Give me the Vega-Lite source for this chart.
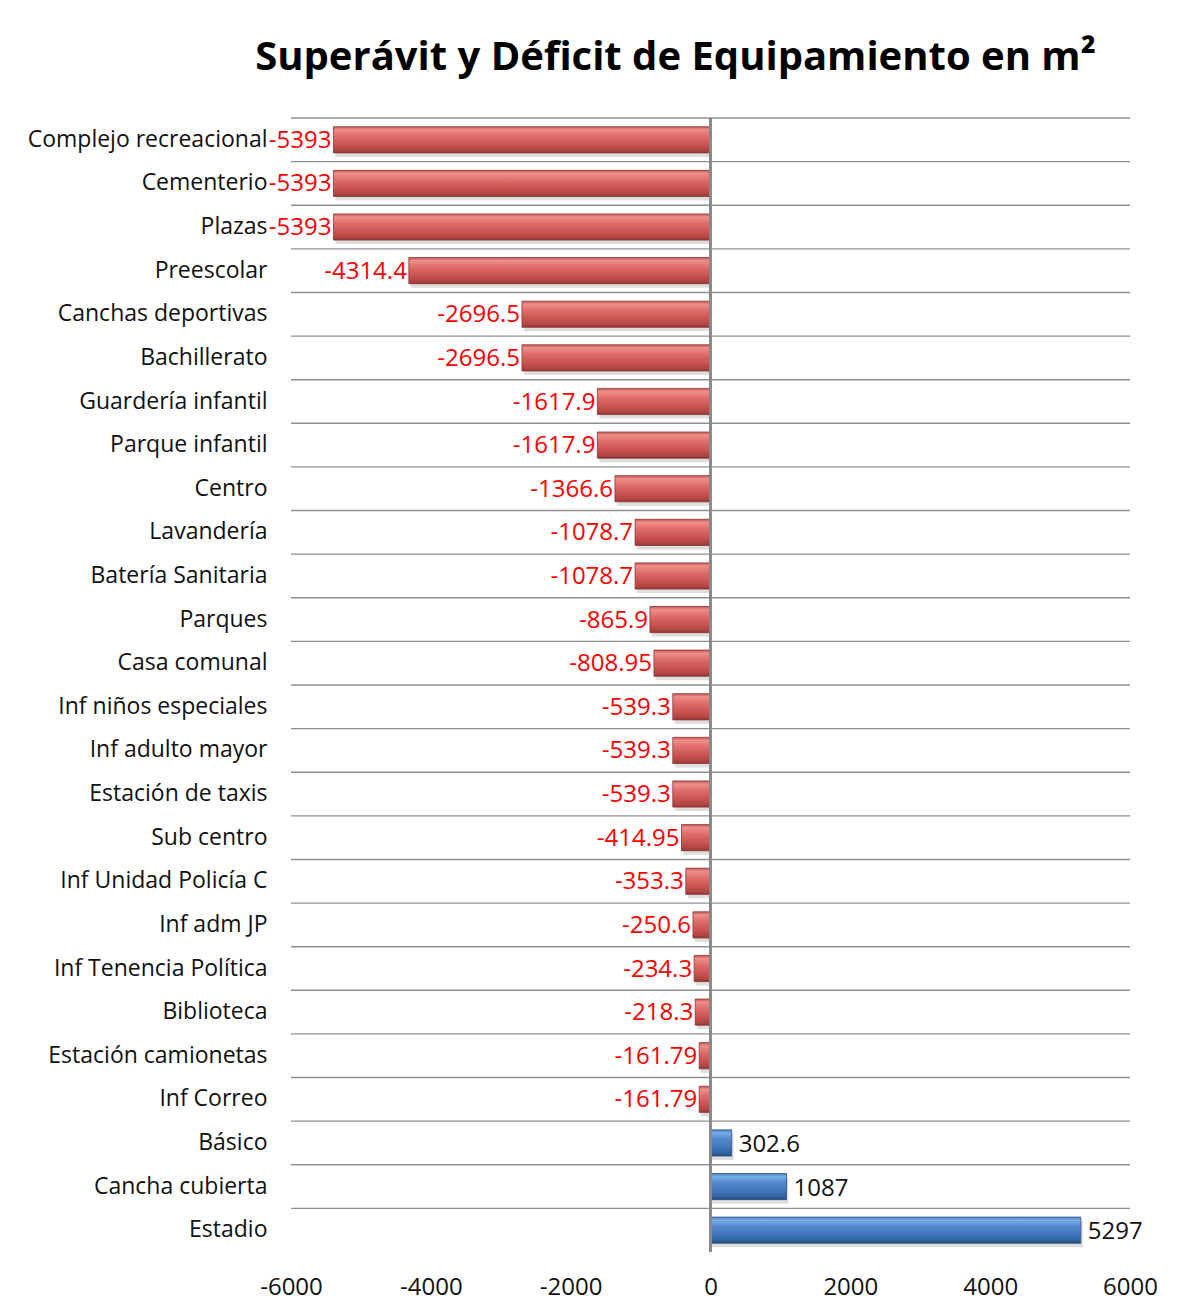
{
  "$schema": "https://vega.github.io/schema/vega-lite/v6.json",
  "width": 839,
  "height": 1134,
  "autosize": "none",
  "padding": {"left": 291, "top": 118, "right": 51, "bottom": 62},
  "background": "white",
  "title": {
    "text": "Superávit y Déficit de Equipamiento en m²",
    "font": "Open Sans",
    "fontSize": 40,
    "fontWeight": "bold",
    "color": "#000000",
    "anchor": "middle",
    "dx": -35,
    "offset": -1,
    "baseline": "bottom"
  },
  "config": {
    "view": {"stroke": null},
    "text": {"font": "Open Sans", "fontSize": 24}
  },
  "data": {
    "values": [
      {"cat": "Complejo recreacional", "v": -5393},
      {"cat": "Cementerio", "v": -5393},
      {"cat": "Plazas", "v": -5393},
      {"cat": "Preescolar", "v": -4314.4},
      {"cat": "Canchas deportivas", "v": -2696.5},
      {"cat": "Bachillerato", "v": -2696.5},
      {"cat": "Guardería infantil", "v": -1617.9},
      {"cat": "Parque infantil", "v": -1617.9},
      {"cat": "Centro", "v": -1366.6},
      {"cat": "Lavandería", "v": -1078.7},
      {"cat": "Batería Sanitaria", "v": -1078.7},
      {"cat": "Parques", "v": -865.9},
      {"cat": "Casa comunal", "v": -808.95},
      {"cat": "Inf niños especiales", "v": -539.3},
      {"cat": "Inf adulto mayor", "v": -539.3},
      {"cat": "Estación de taxis", "v": -539.3},
      {"cat": "Sub centro", "v": -414.95},
      {"cat": "Inf Unidad Policía C", "v": -353.3},
      {"cat": "Inf adm JP", "v": -250.6},
      {"cat": "Inf Tenencia Política", "v": -234.3},
      {"cat": "Biblioteca", "v": -218.3},
      {"cat": "Estación camionetas", "v": -161.79},
      {"cat": "Inf Correo", "v": -161.79},
      {"cat": "Básico", "v": 302.6},
      {"cat": "Cancha cubierta", "v": 1087},
      {"cat": "Estadio", "v": 5297}
    ]
  },
  "layer": [
    {
      "mark": {"type": "rule", "color": "#8f8f8f", "strokeWidth": 1.4},
      "encoding": {
        "y": {
          "field": "cat",
          "type": "nominal",
          "bandPosition": 0,
          "scale": {
            "domain": ["Complejo recreacional", "Cementerio", "Plazas", "Preescolar", "Canchas deportivas", "Bachillerato", "Guardería infantil", "Parque infantil", "Centro", "Lavandería", "Batería Sanitaria", "Parques", "Casa comunal", "Inf niños especiales", "Inf adulto mayor", "Estación de taxis", "Sub centro", "Inf Unidad Policía C", "Inf adm JP", "Inf Tenencia Política", "Biblioteca", "Estación camionetas", "Inf Correo", "Básico", "Cancha cubierta", "Estadio"],
            "paddingInner": 0,
            "paddingOuter": 0
          },
          "axis": {
            "title": null,
            "domain": false,
            "ticks": false,
            "grid": false,
            "labelFont": "Open Sans",
            "labelFontSize": 23,
            "labelColor": "#111111",
            "labelPadding": 24,
            "labelLimit": 400
          }
        },
        "x": {
          "datum": -6000,
          "type": "quantitative",
          "scale": {"domain": [-6000, 6000], "nice": false, "zero": false},
          "axis": {
            "title": null,
            "values": [-6000, -4000, -2000, 0, 2000, 4000, 6000],
            "grid": false,
            "domain": false,
            "ticks": false,
            "labelFlush": false,
            "labelOverlap": false,
            "labelBound": false,
            "labelFont": "Open Sans",
            "labelFontSize": 24,
            "labelColor": "#111111",
            "labelPadding": 23,
            "labelExpr": "'' + datum.value"
          }
        },
        "x2": {"datum": 6000}
      }
    },
    {
      "mark": {"type": "bar", "height": {"band": 0.6}, "color": "#000000", "opacity": 0.13, "yOffset": 4, "xOffset": 2},
      "encoding": {
        "y": {"field": "cat", "type": "nominal"},
        "x": {"field": "v", "type": "quantitative"},
        "x2": {"datum": 0}
      }
    },
    {
      "transform": [{"filter": "datum.v < 0"}],
      "mark": {
        "type": "bar",
        "height": {"band": 0.6},
        "stroke": "#8a3331",
        "strokeWidth": 0.8,
        "color": {
          "gradient": "linear",
          "x1": 0, "y1": 0, "x2": 0, "y2": 1,
          "stops": [
            {"offset": 0, "color": "#c45a57"},
            {"offset": 0.12, "color": "#ef8f8b"},
            {"offset": 0.35, "color": "#df6f6b"},
            {"offset": 0.7, "color": "#c9524f"},
            {"offset": 0.9, "color": "#b04542"},
            {"offset": 1, "color": "#8e3634"}
          ]
        }
      },
      "encoding": {
        "y": {"field": "cat", "type": "nominal"},
        "x": {"field": "v", "type": "quantitative"},
        "x2": {"datum": 0}
      }
    },
    {
      "transform": [{"filter": "datum.v > 0"}],
      "mark": {
        "type": "bar",
        "height": {"band": 0.6},
        "stroke": "#2b5183",
        "strokeWidth": 0.8,
        "color": {
          "gradient": "linear",
          "x1": 0, "y1": 0, "x2": 0, "y2": 1,
          "stops": [
            {"offset": 0, "color": "#4a7fc0"},
            {"offset": 0.12, "color": "#78aee8"},
            {"offset": 0.35, "color": "#5288cc"},
            {"offset": 0.7, "color": "#3e74b8"},
            {"offset": 0.9, "color": "#30609c"},
            {"offset": 1, "color": "#244a7a"}
          ]
        }
      },
      "encoding": {
        "y": {"field": "cat", "type": "nominal"},
        "x": {"field": "v", "type": "quantitative"},
        "x2": {"datum": 0}
      }
    },
    {
      "mark": {"type": "rule", "color": "#8a8a8a", "strokeWidth": 1.4},
      "encoding": {"x": {"datum": 0, "type": "quantitative"}}
    },
    {
      "transform": [{"filter": "datum.v < 0"}],
      "mark": {"type": "text", "align": "right", "baseline": "middle", "dx": -2, "dy": 1, "color": "#ff0000"},
      "encoding": {
        "y": {"field": "cat", "type": "nominal"},
        "x": {"field": "v", "type": "quantitative"},
        "text": {"field": "v", "type": "nominal"}
      }
    },
    {
      "transform": [{"filter": "datum.v > 0"}],
      "mark": {"type": "text", "align": "left", "baseline": "middle", "dx": 7, "dy": 2, "color": "#111111"},
      "encoding": {
        "y": {"field": "cat", "type": "nominal"},
        "x": {"field": "v", "type": "quantitative"},
        "text": {"field": "v", "type": "nominal"}
      }
    }
  ]
}
